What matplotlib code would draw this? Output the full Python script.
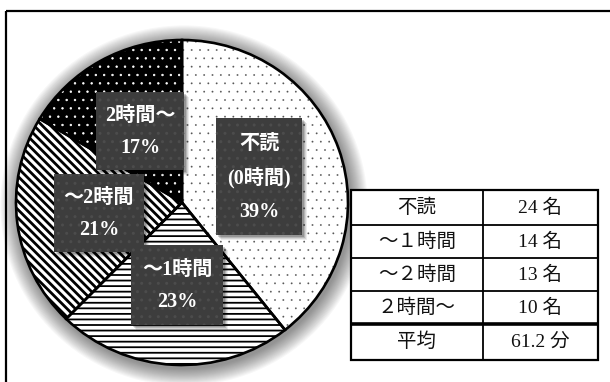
import matplotlib
matplotlib.use("Agg")
import matplotlib.pyplot as plt
from matplotlib.patches import Rectangle, Ellipse

plt.rcParams['font.family'] = ['Liberation Serif', 'Noto Sans CJK JP', 'DejaVu Sans']

# ---- data ----
categories = ["不読", "～1時間", "～2時間", "2時間～"]
slice_labels = ["不読\n(0時間)", "～1時間", "～2時間", "2時間～"]
counts = [24, 14, 13, 10]
pct_labels = [39, 23, 21, 17]
table_rows = ["不読", "～１時間", "～２時間", "２時間～", "平均"]
table_vals = ["24 名", "14 名", "13 名", "10 名", "61.2 分"]

W, H = 610, 382
fig = plt.figure(figsize=(W / 100, H / 100), dpi=100)
fig.patch.set_facecolor("white")

# background overlay in pixel coords
ax_bg = fig.add_axes([0, 0, 1, 1], zorder=0)
ax_bg.set_xlim(0, W); ax_bg.set_ylim(H, 0); ax_bg.axis("off")

# frame (only top and left visible)
ax_bg.plot([6, W + 5], [10.5, 10.5], color="black", lw=1.6, solid_capstyle="butt")
ax_bg.plot([6, 6], [10.5, H + 5], color="black", lw=1.6, solid_capstyle="butt")

# pie geometry (pixels)
cx, cy, rx, ry = 182, 202.5, 166, 162.5

# soft shadow around pie
n = 16
for i in range(n):
    g = n - i
    ax_bg.add_patch(Ellipse((cx + 2, cy + 3), 2 * (rx + g * 1.1), 2 * (ry + g * 1.1),
                            facecolor="black", edgecolor="none", alpha=0.03))

# pie axes
ax = fig.add_axes([(cx - rx) / W, (H - (cy + ry)) / H, 2 * rx / W, 2 * ry / H], zorder=1)
faces = ["white", "white", "white", "black"]
hatch_cols = ["#555555", "black", "black", "white"]
hatches = ["..", "---", "\\\\\\\\", ".."]
hatch_lws = [0.1, 1.3, 2.0, 0.5]
wedges, _ = ax.pie(counts, startangle=90, counterclock=False, radius=1, center=(0, 0),
                   wedgeprops=dict(linewidth=0))
for w, fc, hc, h, hl in zip(wedges, faces, hatch_cols, hatches, hatch_lws):
    w.set_facecolor(fc)
    w.set_edgecolor(hc)
    w.set_linewidth(0)
    w.set_hatch(h)
    if hasattr(w, "set_hatch_linewidth"):
        w.set_hatch_linewidth(hl)
ax.pie(counts, startangle=90, counterclock=False, radius=1, center=(0, 0),
       wedgeprops=dict(fill=False, edgecolor="black", linewidth=1.9))
ax.set_aspect("auto")
ax.set_xlim(-1.0, 1.0); ax.set_ylim(-1.0, 1.0)
ax.axis("off")
ax.patch.set_alpha(0)

# overlay for labels and table
ax_t = fig.add_axes([0, 0, 1, 1], zorder=2)
ax_t.set_xlim(0, W); ax_t.set_ylim(H, 0); ax_t.axis("off")
ax_t.patch.set_alpha(0)

# label boxes (pixel boxes), order of drawing
boxes = {
    "2時間～": (96, 92, 184, 170),
    "不読": (216, 118, 302, 235),
    "～2時間": (54, 174, 144, 252),
    "～1時間": (131, 245, 223, 325),
}
draw_order = [3, 0, 2, 1]
for idx in draw_order:
    x0, y0, x1, y1 = boxes[categories[idx]]
    for k, a in [(6, 0.08), (5, 0.10), (4, 0.14), (3, 0.18)]:
        ax_t.add_patch(Rectangle((x0 + k - 1, y0 + k - 1), x1 - x0, y1 - y0,
                                 facecolor="black", edgecolor="none", alpha=a))
    box = Rectangle((x0, y0), x1 - x0, y1 - y0, facecolor="#3d3d3d",
                    edgecolor="#4c4c4c", linewidth=0, hatch="..")
    ax_t.add_patch(box)
    text = f"{slice_labels[idx]}\n{pct_labels[idx]}%"
    ax_t.text((x0 + x1) / 2, (y0 + y1) / 2 + 1, text, color="white", fontsize=14.5,
              fontweight="bold", ha="center", va="center", linespacing=1.85)

# table
tx0, tx1, tdiv = 351, 598, 483
row_y = [190, 225, 258, 291, 324, 360]
ax_t.add_patch(Rectangle((tx0, row_y[0]), tx1 - tx0, row_y[-1] - row_y[0],
                         facecolor="white", edgecolor="black", linewidth=1.6))
for yy in row_y[1:-1]:
    lw = 2.6 if yy == row_y[-2] else 1.3
    ax_t.plot([tx0, tx1], [yy, yy], color="black", lw=lw, solid_capstyle="butt")
ax_t.plot([tdiv, tdiv], [row_y[0], row_y[-1]], color="black", lw=1.3)
for i, (lab, val) in enumerate(zip(table_rows, table_vals)):
    yc = (row_y[i] + row_y[i + 1]) / 2
    ax_t.text((tx0 + tdiv) / 2, yc, lab, fontsize=14, ha="center", va="center", color="#111111")
    ax_t.text((tdiv + tx1) / 2, yc, val, fontsize=14, ha="center", va="center", color="#111111")

fig.savefig("out.png", dpi=100, facecolor="white")
